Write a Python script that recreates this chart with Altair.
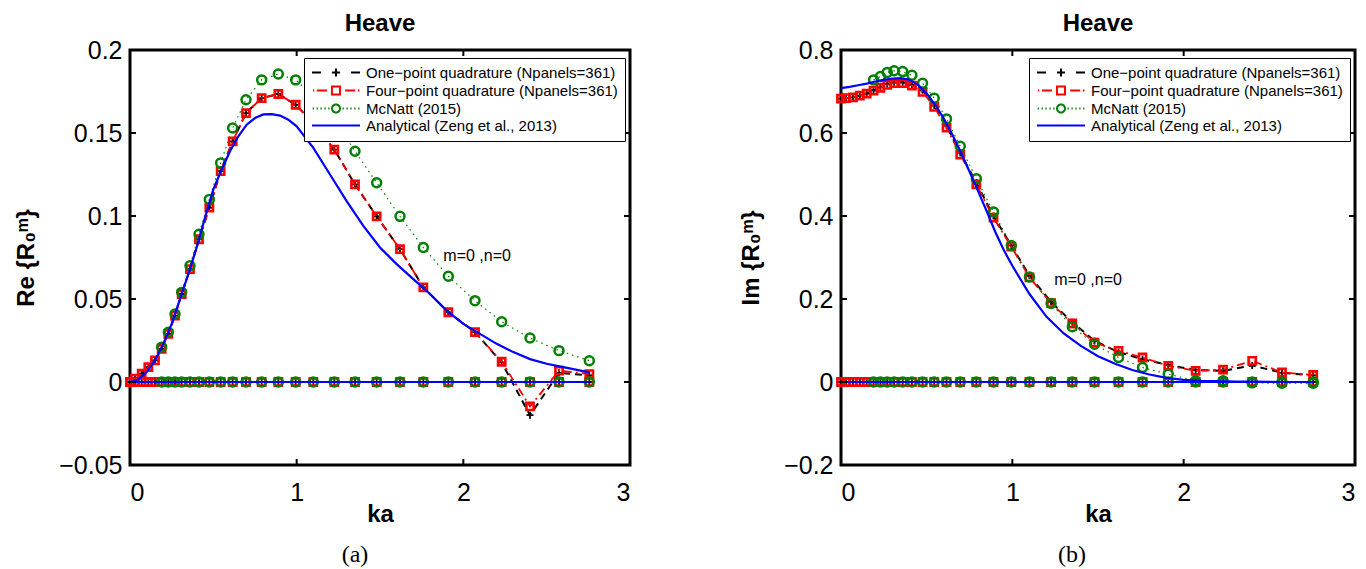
import math
import altair as alt
import pandas as pd

# ---------------- data ----------------
KA = [0.00, 0.03, 0.07, 0.11, 0.15, 0.19, 0.23, 0.27, 0.31, 0.36, 0.414, 0.476, 0.544,
      0.616, 0.696, 0.79, 0.89, 0.994, 1.10, 1.226, 1.35, 1.48, 1.62, 1.76, 1.91, 2.07,
      2.23, 2.40, 2.574, 2.756]
KA_MC = [0.19, 0.23, 0.27, 0.31, 0.36, 0.414, 0.476, 0.544, 0.616, 0.696, 0.79, 0.89,
         0.994, 1.10, 1.226, 1.35, 1.48, 1.62, 1.76, 1.91, 2.07, 2.23, 2.40, 2.574, 2.756]
KA_AN = [0.0, 0.05, 0.1, 0.15, 0.2, 0.25, 0.3, 0.35, 0.4, 0.45, 0.5, 0.55, 0.6, 0.65, 0.7,
         0.75, 0.8, 0.85, 0.9, 0.95, 1.0, 1.1, 1.2, 1.3, 1.4, 1.5, 1.6, 1.7, 1.8, 1.9, 2.0,
         2.1, 2.2, 2.3, 2.4, 2.5, 2.6, 2.756]

RE_ONE = [0.000, 0.002, 0.005, 0.009, 0.013, 0.020, 0.029, 0.040, 0.053, 0.068, 0.086,
          0.105, 0.127, 0.145, 0.162, 0.171, 0.1735, 0.167, 0.156, 0.140, 0.119, 0.0998,
          0.080, 0.057, 0.042, 0.030, 0.0118, -0.020, 0.0055, 0.004]
RE_FOUR = [0.000, 0.002, 0.005, 0.009, 0.013, 0.020, 0.029, 0.040, 0.053, 0.068, 0.086,
           0.105, 0.127, 0.145, 0.162, 0.171, 0.1735, 0.167, 0.156, 0.140, 0.119, 0.0998,
           0.080, 0.057, 0.042, 0.030, 0.0122, -0.0147, 0.0068, 0.0048]
RE_MC = [0.021, 0.030, 0.041, 0.054, 0.070, 0.089, 0.110, 0.132, 0.153, 0.170, 0.182,
         0.1855, 0.182, 0.172, 0.158, 0.139, 0.120, 0.0998, 0.081, 0.0637, 0.049, 0.0363,
         0.0265, 0.0189, 0.0128]
RE_AN = [0.0, 0.0015, 0.006, 0.013, 0.023, 0.035, 0.050, 0.065, 0.081, 0.099, 0.116, 0.128,
         0.139, 0.148, 0.155, 0.159, 0.1612, 0.1614, 0.1605, 0.158, 0.154, 0.141, 0.125,
         0.109, 0.094, 0.081, 0.071, 0.062, 0.053, 0.043, 0.035, 0.029, 0.023, 0.018,
         0.0138, 0.011, 0.009, 0.0058]

IM_ONE = [0.683, 0.684, 0.686, 0.690, 0.695, 0.703, 0.710, 0.718, 0.722, 0.722, 0.716,
          0.703, 0.666, 0.617, 0.552, 0.480, 0.400, 0.329, 0.256, 0.193, 0.144, 0.099,
          0.072, 0.055, 0.041, 0.029, 0.027, 0.040, 0.022, 0.016]
IM_FOUR = [0.683, 0.684, 0.686, 0.690, 0.695, 0.702, 0.709, 0.716, 0.720, 0.720, 0.714,
           0.699, 0.663, 0.613, 0.548, 0.476, 0.396, 0.326, 0.252, 0.190, 0.141, 0.095,
           0.075, 0.059, 0.039, 0.027, 0.0296, 0.051, 0.023, 0.017]
IM_MC = [0.728, 0.736, 0.746, 0.750, 0.748, 0.739, 0.720, 0.684, 0.634, 0.568, 0.490,
         0.410, 0.329, 0.253, 0.189, 0.133, 0.091, 0.059, 0.035, 0.019, 0.003, 0.003,
         -0.002, -0.003, -0.003]
IM_AN = [0.708, 0.711, 0.715, 0.719, 0.724, 0.728, 0.731, 0.732, 0.728, 0.716, 0.695,
         0.668, 0.635, 0.596, 0.553, 0.507, 0.460, 0.412, 0.362, 0.318, 0.280, 0.212,
         0.157, 0.117, 0.087, 0.062, 0.044, 0.029, 0.018, 0.010, 0.005, 0.003, 0.002,
         0.001, 0.001, 0.0005, 0.0, 0.0]

OTHER_MODE = 0.0  # the m!=0 branch lies on zero for every series

NAMES = ["One−point quadrature (Npanels=361)", "Four−point quadrature (Npanels=361)",
         "McNatt (2015)", "Analytical (Zeng et al., 2013)"]
COLORS = ["#000000", "#ff0000", "#008000", "#0000ff"]
X_TICKS = [0, 1, 2, 3]
RE_TICKS = [-0.05, 0, 0.05, 0.1, 0.15, 0.2]
IM_TICKS = [-0.2, 0, 0.2, 0.4, 0.6, 0.8]
ANNOT = "m=0 ,n=0"

FONT = "Liberation Sans"

# ---------------- legend symbol paths (unit box, scaled by sqrt(size)/2) ----------------
def poly_circle(cx, r, n=14):
    pts = [(cx + r * math.cos(2 * math.pi * i / n), r * math.sin(2 * math.pi * i / n)) for i in range(n)]
    return "M" + "L".join(f"{x:.3f},{y:.3f}" for x, y in pts) + "Z"

CX, M = 2.69, 0.62
P_ONE = f"M-1,0H0.38M{CX-M:.2f},0H{CX+M:.2f}M{CX},-{M}V{M}M5.0,0H6.38"
P_FOUR = (f"M-0.85,0H-0.65M-0.25,0H1.3M{CX-M:.2f},-{M}H{CX+M:.2f}V{M}H{CX-M:.2f}Z"
          f"M4.1,0H5.65M6.05,0H6.3")
dots_l = "".join(f"M{x:.2f},0H{x+0.2:.2f}" for x in [-0.9, -0.3, 0.3, 0.9, 1.5])
dots_r = "".join(f"M{x:.2f},0H{x+0.2:.2f}" for x in [3.7, 4.3, 4.9, 5.5, 6.1])
P_MC = dots_l + poly_circle(CX, M) + dots_r
P_AN = "M-1,0H6.38"
PATHS = [P_ONE, P_FOUR, P_MC, P_AN]
PLUS = "M-1,0H1M0,-1V1"


def build(one, four, mc, an):
    rows = []

    def add(ks, vs, s, b):
        for k, v in zip(ks, vs):
            rows.append({"ka": k, "val": v, "s": s, "b": b})

    add(KA, one, "one", "m0")
    add(KA, [OTHER_MODE] * len(KA), "one", "other")
    add(KA, four, "four", "m0")
    add(KA, [OTHER_MODE] * len(KA), "four", "other")
    add(KA_MC, mc, "mc", "m0")
    add(KA_MC, [OTHER_MODE] * len(KA_MC), "mc", "other")
    add(KA_AN, an, "an", "m0")
    add(KA_AN, [OTHER_MODE] * len(KA_AN), "an", "other")
    return pd.DataFrame(rows)


STYLE = {
    "one": dict(color="#000000", dash=[7, 5], lw=2, shape=PLUS, size=49, sw=1.8),
    "four": dict(color="#ff0000", dash=[8, 4, 2, 4], lw=1.8, shape="square", size=52, sw=2.6),
    "mc": dict(color="#008000", dash=[1.5, 4], lw=1.2, shape="circle", size=80, sw=2.5),
    "an": dict(color="#0000ff", dash=None, lw=2.2, shape=None, size=None, sw=None),
}

H = 415


def panel(df, ydom, yticks, ytitle, W, legx, ann_ka, ann_val, cap, capx):
    X = alt.X("ka:Q", scale=alt.Scale(domain=[0, 3], nice=False, zero=False),
              axis=alt.Axis(values=X_TICKS, title="ka", format="d"))
    Y = alt.Y("val:Q", scale=alt.Scale(domain=ydom, nice=False, zero=False),
              axis=alt.Axis(values=yticks, title=ytitle,
                            labelExpr="datum.value < 0 ? '−' + format(-datum.value, '~g') : format(datum.value, '~g')"))
    base = alt.Chart(df)
    layers = []
    for s in ["one", "four", "mc", "an"]:
        st = STYLE[s]
        lkw = dict(color=st["color"], strokeWidth=st["lw"])
        if st["dash"]:
            lkw["strokeDash"] = st["dash"]
        layers.append(base.transform_filter(alt.datum.s == s).mark_line(**lkw)
                      .encode(x=X, y=Y, detail="b:N", order="ka:Q"))
        if st["shape"]:
            layers.append(base.transform_filter(alt.datum.s == s)
                          .mark_point(shape=st["shape"], size=st["size"], filled=False,
                                      color=st["color"], strokeWidth=st["sw"], opacity=1)
                          .encode(x=X, y=Y))
    # inward ticks (MATLAB box style)
    ytd = pd.DataFrame({"val": yticks})
    xtd = pd.DataFrame({"ka": X_TICKS})
    tk = dict(color="black", strokeWidth=2)
    layers.append(alt.Chart(ytd).mark_rule(**tk).encode(y=Y, x=alt.value(0), x2=alt.value(6)))
    layers.append(alt.Chart(ytd).mark_rule(**tk).encode(y=Y, x=alt.value(W - 6), x2=alt.value(W)))
    layers.append(alt.Chart(xtd).mark_rule(**tk).encode(x=X, y=alt.value(H), y2=alt.value(H - 6)))
    layers.append(alt.Chart(xtd).mark_rule(**tk).encode(x=X, y=alt.value(0), y2=alt.value(6)))
    # annotation
    layers.append(alt.Chart(pd.DataFrame({"ka": [ann_ka], "val": [ann_val], "t": [ANNOT]}))
                  .mark_text(align="left", baseline="middle", fontSize=16, font=FONT, color="black")
                  .encode(x=X, y=Y, text="t:N"))
    # sub-figure caption
    layers.append(alt.Chart(pd.DataFrame({"t": [cap]}))
                  .mark_text(font="Liberation Serif", fontSize=24, baseline="middle", color="black")
                  .encode(x=alt.value(capx), y=alt.value(H + 90), text="t:N"))
    # legend (carried by an invisible layer)
    leg = alt.Legend(orient="none", legendX=legx, legendY=8, title=None, labelFont=FONT,
                     labelFontSize=15, labelLimit=0, labelOffset=40, symbolSize=169,
                     symbolStrokeWidth=2, symbolOpacity=1, fillColor="white",
                     strokeColor="black", padding=7, rowPadding=1, symbolFillColor="transparent")
    layers.append(alt.Chart(pd.DataFrame({"name": NAMES}))
                  .mark_point(filled=False, opacity=0, size=169)
                  .encode(color=alt.Color("name:N", scale=alt.Scale(domain=NAMES, range=COLORS), legend=leg),
                          shape=alt.Shape("name:N", scale=alt.Scale(domain=NAMES, range=PATHS), legend=leg)))
    return alt.layer(*layers).properties(
        width=W, height=H,
        title=alt.TitleParams("Heave", fontSize=24, fontWeight="bold", font=FONT, offset=2, color="black"))


left = panel(build(RE_ONE, RE_FOUR, RE_MC, RE_AN), [-0.05, 0.2], RE_TICKS, "Re {R₀ᵐ}",
             500, 174, 1.88, 0.076, "(a)", 225)
right = panel(build(IM_ONE, IM_FOUR, IM_MC, IM_AN), [-0.2, 0.8], IM_TICKS, "Im {R₀ᵐ}",
              514, 188, 1.245, 0.246, "(b)", 231)

chart = alt.hconcat(left, right, spacing=105).resolve_scale(
    color="independent", shape="independent").resolve_legend(
    color="independent", shape="independent").properties(
    padding={"left": 5, "top": 2, "right": 0, "bottom": 0}
).configure_view(stroke="black", strokeWidth=3).configure_axis(
    domain=False, ticks=False, tickSize=0, grid=False, labelFont=FONT, labelFontSize=25,
    labelColor="black", titleFont=FONT, titleFontSize=24, titleFontWeight="bold",
    titleColor="black", labelPadding=8, titlePadding=14
).configure_axisX(labelPadding=15, titlePadding=-3).configure_axisY(titlePadding=20)

chart.save("out.html", embed_options={"renderer": "svg", "actions": False})
